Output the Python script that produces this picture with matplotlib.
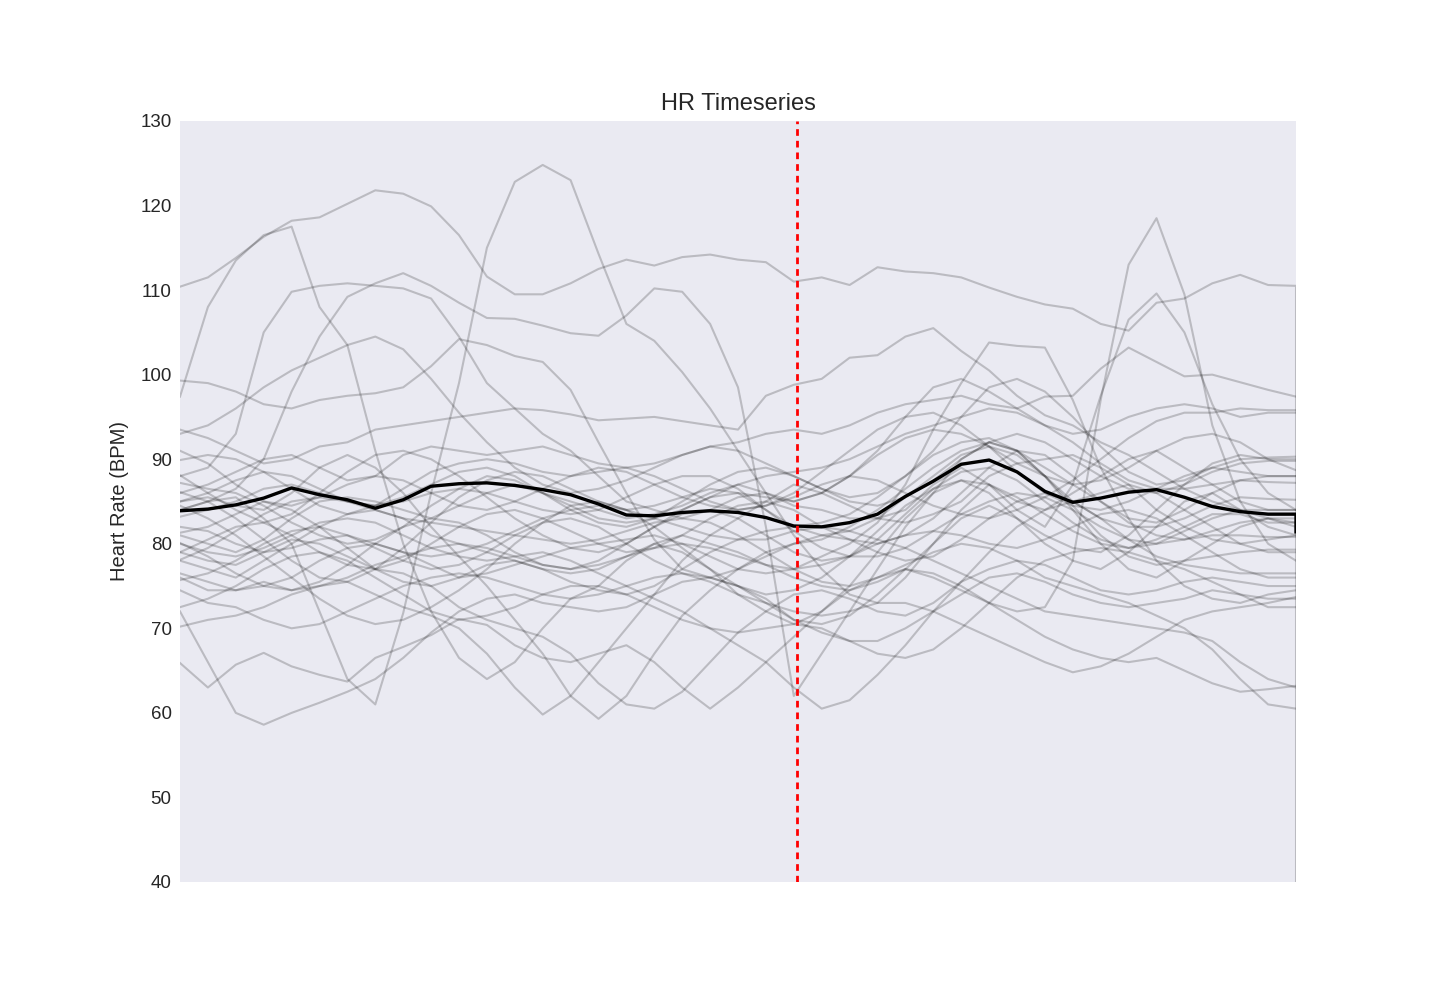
import numpy as np
import matplotlib
matplotlib.use("Agg")
import matplotlib.pyplot as plt

# time axis (arbitrary units, 0..100), last sample duplicated at the end
time = [i * 2.5 for i in range(41)] + [100.0]
change_point = 55.25

hr_01 = [110.4,111.5,113.8,116.3,118.2,118.6,120.2,121.8,121.4,119.9,116.5,111.6,109.5,109.5,110.8,112.5,113.6,112.9,113.9,114.2,113.6,113.3,111.0,111.5,110.6,112.7,112.2,112.0,111.5,110.3,109.2,108.3,107.8,106.0,105.2,108.5,109.0,110.8,111.8,110.6,110.5,0.0]
hr_02 = [84,85,85.5,83,80,72,64,61,71.8,86,99,115,122.8,124.8,123,114.3,106,104,100.3,96,91,86,81,77,74,73,76,80,84,87,85,84,86,88,90,91,89,87,85,84,84,84]
hr_03 = [97.4,108,113.5,116.5,117.5,108,103.5,91,80,72,66.5,64,66,70,73.5,75,78,80,79,77,74,72,70.5,72,75,79,83,86,87.5,86,83,80,78,77,79,82,85,86,84,82,81,81]
hr_04 = [88,89,93,105,109.8,110.5,110.8,110.5,110.2,109,104.5,99,96,93,91,88,85,84,83,84,85.5,86,85,86,88,91,95,98.5,99.5,98,96,94,93,93.5,95,96,96.5,96,95,95.5,95.5,95.5]
hr_05 = [84,85,86.5,90,98,104.5,109.2,110.8,112,110.5,108.5,106.7,106.6,105.8,104.9,104.6,107,110.2,109.8,106,98.5,82,62,67,72,77,82,86,90,92,91,88,84,80,77,76,78,80,82,83,82.5,82.5]
hr_06 = [99.3,99,98,96.5,96,97,97.5,97.8,98.5,101,104.2,103.5,102.2,101.5,98.2,92,86,80.5,77,76,75,73.5,71,70.5,71.5,74,77,80,83,84.5,83,81,79.5,79,81,84,87,89.5,90.5,90,90,90]
hr_07 = [93.5,92.5,91,89.5,90,91.5,92,93.5,94,94.5,95,95.5,96,95.8,95.3,94.6,94.8,95,94.5,94,93.5,97.5,98.8,99.5,102,102.3,104.5,105.5,102.8,100.5,97.5,95.2,94,92,90.5,88.5,86.5,85,84,83,82,82]
hr_08 = [78,77,76,78,80,82,83.5,84,83,81,80,79,78,77,76.5,77,78.5,80,81,80,79,77.5,76,75,74.5,75.5,77,76,74.5,73,72,72.5,78,97,113,118.5,109.5,94,85,80,78,78]
hr_09 = [81,80,79,80.5,83,85,85.5,85,84,83,84.5,86,87,86,85,84,83,83.5,84.5,86,87,86,84.5,84,83,83,84,87,89,87,84,82,87,97.5,106.5,109.6,105,96.5,90,86,84,84]
hr_10 = [86,87,88.5,90,90.5,89,87.5,88,90.5,91.5,91,90.5,91,91.5,90.5,89.5,89,89.5,90.5,91.5,92,93,93.5,93,94,95.5,96.5,97,97.5,96.5,96,97.4,97.5,100.7,103.2,101.5,99.8,100,99.1,98.2,97.4,97.4]
hr_11 = [76.5,75.5,74.5,75,76,78,79.5,80,79,77.5,76,76.5,77.5,78.5,79.5,80,80.5,81,80,78.5,77,76.5,77,78.5,80,82.5,87,93.5,99,103.8,103.4,103.2,97,89,83,78,75,73.5,73,74,74.5,74.5]
hr_12 = [72,66,60,58.6,60,61.2,62.5,64,66.5,69.5,72,73.5,74,73,72.5,72,72.5,74,75.5,76,75,73,71,69.5,68.5,68.5,70,72,74,76,76.5,75.5,74,73,72.5,73,73.5,74.5,74,73.5,73.5,73.5]
hr_13 = [65.9,63,65.7,67.1,65.5,64.5,63.7,66.5,67.8,69.2,71.1,70.4,68,66.5,66,67,68,66,63,60.5,63,66,69,72,74.5,76,77,76.5,75,73,71,69,67.5,66.5,66,66.5,65,63.5,62.5,62.8,63.2,63.2]
hr_14 = [76,74.5,74.5,75.5,74.5,75,75.5,74,72.5,71.5,70,67,63,59.8,62,66,70,74,78,81,83,85,87,86,84.5,83,82.5,83.5,85,88,89.5,90,90.5,89,87,84,82,80.5,80,80.5,81,81]
hr_15 = [85,85.5,84.5,84,86,89,90.5,89,86,82,78.5,75,71,67,62,59.3,62,67,71.5,74.5,77,79,80,80.5,82,84,86.5,89,91,92,91,89,87,85,83,82.5,84,86,87.5,88,88,88]
hr_16 = [79,78,77.5,79,80.5,80,78.5,77,76.5,75,72.5,71,70,69,67,63.5,61,60.5,62.5,66,69.5,72,74,74.5,73.5,72,71.5,73,75.5,77,78,77.5,76,74.5,74,74.5,75.5,76,75.5,75,75,75]
hr_17 = [80,79,78.5,79.5,81,82.5,83,82.5,81,79.5,78.5,78,78.5,79,78,76.5,75,73.5,72,70,68,66,63,60.5,61.5,64.5,68,72,75.5,79,82,84,85,86,87,86,84,82,80,79,79,79]
hr_18 = [74.5,73,72.5,71,70,70.5,72,73.5,75,76,76.5,76,75,74,73.5,74,75,76,76.5,75.5,74,73,72,71.5,72,73,73,72,70.5,69,67.5,66,64.8,65.5,67,69,71,72,72.5,73,73.7,73.7]
hr_19 = [82,81.5,80,79,79.5,80.5,81,80,79,78.5,79,80,81.5,83,84,84.5,84,83,82,81,80.5,80.5,81.5,82,81.5,80.5,79.5,78,76.5,75,73.5,72,71.5,71,70.5,70,69.5,68.5,66,64,63,63]
hr_20 = [83.2,84,85,86.5,87,86,85,84,83,82.5,82,81.5,81,80.5,80,80.5,81.5,82.5,83,82.5,81,79,77,75.5,75,76,77.5,79,80,79.5,78,76,75,74,73,71.5,70,67.5,64,61,60.5,60.5]
hr_21 = [70.2,71,71.5,72.5,74,75,76,77.5,78.5,79.5,80,79.5,78.5,77.5,77,77.5,78.5,79.5,80,79.5,78.5,77.5,77,77.5,78.5,80,81,81.5,81,80,79.5,80.5,82,83.5,84,83,81,79,77,76,76,76]
hr_22 = [88.1,86,84,82.5,83.5,86,88.5,90.5,91,90,88,85.5,83,81,79.5,79,80,82,84,85.5,86,85.5,85,86,88,90.5,92.5,93.5,93,91.5,89.5,88,87,87.5,89,91,92.5,93,92,90,88.7,88.7]
hr_23 = [89.9,90.5,90,88.5,86.5,84.5,83.5,84.5,86.5,88.5,89.5,90,89.5,88.5,88,88.5,89,88,86.5,85,84,84.5,85.5,87,88,87.5,86,84.5,83.5,83,84,85.5,87.5,90,92.5,94.5,95.5,95.5,96,95.8,95.8,95.8]
hr_24 = [87.2,86.5,86,84.5,82.5,81,80,80.5,82,84.5,86.5,88,87.5,86,84.5,83,82.5,83,84,85.5,87,88,88.5,89,90,91.5,93,94,95,96,95.5,94,92,89.5,87.5,86.5,86.5,87,87.5,87.3,87.2,87.2]
hr_25 = [86.1,85,83,80.5,78,76,75.5,77,79.5,82.5,85.5,87.5,88.5,88,86.5,85,84,84.5,85.5,86.5,86,84,82,81,81.5,83,85.5,88,90.5,91.5,90.5,88,85,83,82,82,83,84.5,85.5,85.3,85.2,85.2]
hr_26 = [81.3,82,83.5,85,84,82,79.5,77,75.5,75,76,77.5,78,77,75.5,74.5,74,75,77,79,80.5,81.5,82,82.5,83.5,85.5,88,90.5,92,92.5,91,88,84.5,81,78.5,77.5,78,78.5,79,79.3,79.3,79.3]
hr_27 = [72.5,73.5,75,77,78.5,79,78,76,74,72,71,71.5,72.5,74,75,75,74,72.5,71,70,69.5,70,70.5,70,68.5,67,66.5,67.5,70,73,76,78,79,79.5,79,78,77,75.5,74,72.5,72.5,72.5]
hr_28 = [93,94,96,98.5,100.5,102,103.5,104.5,103,99.5,95.5,92,89,87,86,86.5,87.5,89,90.5,91.5,91,89.5,88,86.5,85.5,86,88,91,95,98.5,99.5,98,95,91.5,88.5,87,87.5,89,90,90.2,90.3,90.3]
hr_29 = [84.5,83,81,78.5,76,73.5,71.5,70.5,71,72.5,74.5,77,80,82.5,84.5,85,84,82,79.5,77,75,74,74.5,76,78.5,81.5,84.5,86.5,87.5,87,85.5,83.5,81.5,80,79.5,80.5,82,83.5,83.5,82.5,82.5,82.5]
hr_30 = [78.1,79.5,81.5,83.5,85,85.5,85,84.5,85,86,86.5,86,85,84,83.5,84,85.5,87,88,88,86.5,84,81.5,79.5,78.5,78.5,79.5,81.5,83.5,85,86,85.5,84,82,80.5,80,80.5,81,81,80.8,80.8,80.8]
hr_31 = [85,86,87.5,88.5,88,86.5,85,84.5,85.5,87,88.5,89,88,86,84,82.5,82,83,85,87,88.5,89,88,86.5,85,84.5,85.5,87.5,90,92,93,92,90,88,86.5,86,87,88.5,89.5,89.8,89.8,89.8]
hr_32 = [79,80.5,82,82.5,81,79,77.5,77,78,80,82,83.5,84,83,81.5,80,79,79.5,81,83,84.5,85,84,82,80.5,80,81,83,86,89,91,90.5,88,85,82.5,81,80.5,81.5,82.5,83,83,83]
hr_33 = [75.7,76.5,78,80,81.5,82,81,79.5,78,77,77.5,79,81,82.5,83,82,80,78,76.5,76,77,78.5,80,81,80.5,79,78,78.5,80.5,83,85,86,85,83,80.5,78.5,77.5,77,76.5,76.5,76.5,76.5]
hr_34 = [91,89.5,87,85,84.5,85.5,87,88,87.5,86,84.5,84,85,86.5,88,89,88.5,87,85.5,84.5,84,84.5,86,88.5,91,93.5,95,95.5,94,91.5,88.5,86,84.5,84,85,86.5,88,89,88.5,88,88,88]
hr_35 = [80.1,78.5,76.5,75,74.5,75.5,77.5,80,82,83,82.5,81,79,77.5,77,78,80,82,83.5,84,83,81,79,78,78.5,80.5,83.5,86.5,88.5,89,87.5,85,82.5,80.5,79.5,80,81.5,83,84,84,84,84]

hr_mean = [83.9,84.1,84.6,85.4,86.6,85.8,85.2,84.2,85.2,86.8,87.1,87.2,86.9,86.4,85.8,84.7,83.4,83.3,83.7,83.9,83.7,83.1,82.1,82.0,82.5,83.5,85.6,87.4,89.4,89.9,88.5,86.2,84.9,85.4,86.1,86.4,85.5,84.4,83.8,83.5,83.5,81.4]

subjects = [hr_01, hr_02, hr_03, hr_04, hr_05, hr_06, hr_07, hr_08, hr_09, hr_10,
            hr_11, hr_12, hr_13, hr_14, hr_15, hr_16, hr_17, hr_18, hr_19, hr_20,
            hr_21, hr_22, hr_23, hr_24, hr_25, hr_26, hr_27, hr_28, hr_29, hr_30,
            hr_31, hr_32, hr_33, hr_34, hr_35]

y_ticks = [40, 50, 60, 70, 80, 90, 100, 110, 120, 130]

plt.rcParams['font.family'] = ['Liberation Sans', 'DejaVu Sans']

fig = plt.figure(figsize=(14.4, 10.08), dpi=100)
ax = fig.add_axes([0.125, 0.125, 0.775, 0.755])
ax.set_facecolor('#EAEAF2')
for s in ax.spines.values():
    s.set_visible(False)

for series in subjects:
    ax.plot(time, series, color='black', alpha=0.2, linewidth=1.5)
ax.plot(time, hr_mean, color='black', linewidth=2.4)
ax.axvline(change_point, color='red', linewidth=2.0, linestyle=(0, (2.4, 1.8)))

ax.set_xlim(0, 100)
ax.set_ylim(40, 130)
ax.set_yticks(y_ticks)
ax.set_xticks([])
ax.tick_params(axis='y', length=0, pad=6, labelsize=13.5, labelcolor='#262626')
ax.set_ylabel('Heart Rate (BPM)', fontsize=14.5, color='#262626', labelpad=8)
ax.set_title('HR Timeseries', fontsize=17, color='#262626', pad=8)

fig.savefig('out.png', dpi=100)
